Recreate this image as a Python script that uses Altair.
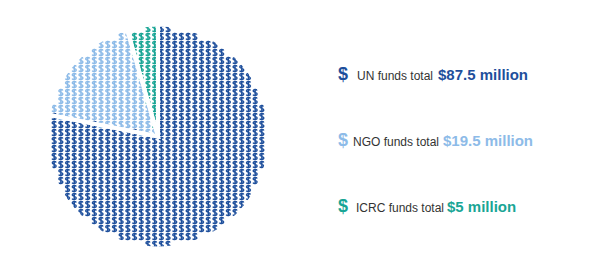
import json
import altair as alt
import pandas as pd

# ---- data ----
categories = ["UN", "NGO", "ICRC"]
funds = [87.5, 19.5, 5.0]  # US$ million
labels = ["UN funds total", "NGO funds total", "ICRC funds total"]
value_texts = ["$87.5 million", "$19.5 million", "$5 million"]

# ---- styles / layout ----
glyph_colors = ["#1e4f9c", "#8dbbe8", "#19a595"]
text_colors = ["#1b3f8f", "#8fb8e6", "#1ba596"]
CX, CY, R = 158, 136.5, 112
COL_STEP, ROW_STEP = 6.7, 8
NCOLS, NROWS = 36, 30
ICON_X = 343
LABEL_X = [357, 353, 356]
VALUE_X = [438, 443, 447]
ROW_Y = [79.5, 146, 212]

# "$" glyph as a symbol path (unit square -1..1)
DOLLAR = ("M0.42,-0.42 C0.3,-0.68 -0.42,-0.7 -0.42,-0.3 "
          "C-0.42,0 0.42,-0.04 0.42,0.3 C0.42,0.7 -0.3,0.68 -0.45,0.42 "
          "M0,-0.78 L0,0.78")

total = sum(funds)
cum = []
acc = 0.0
for f in funds:
    acc += f
    cum.append(360.0 * acc / total)

cat_expr = f"'{categories[-1]}'"
for c, b in reversed(list(zip(categories[:-1], cum[:-1]))):
    cat_expr = f"(datum.ang < {b} ? '{c}' : {cat_expr})"

glyphs = (
    alt.Chart(alt.sequence(0, NCOLS * NROWS, as_="i"))
    .transform_calculate(
        px=f"{CX} + ((datum.i % {NCOLS}) - {(NCOLS - 1) / 2}) * {COL_STEP}",
        py=f"{CY} + (floor(datum.i / {NCOLS}) - {(NROWS - 1) / 2}) * {ROW_STEP}",
    )
    .transform_calculate(
        dist=f"sqrt(pow(datum.px - {CX}, 2) + pow(datum.py - {CY}, 2))",
        ang0=f"atan2(datum.px - {CX}, {CY} - datum.py) * 180 / PI",
    )
    .transform_calculate(ang="datum.ang0 < 0 ? datum.ang0 + 360 : datum.ang0")
    .transform_filter(f"datum.dist < {R - 3}")
    .transform_calculate(cat=cat_expr)
    .mark_point(shape=DOLLAR, size=92, filled=False, strokeWidth=1.45, opacity=1)
    .encode(
        x=alt.X("px:Q", scale=None),
        y=alt.Y("py:Q", scale=None),
        color=alt.Color("cat:N", scale=alt.Scale(domain=categories, range=glyph_colors), legend=None),
    )
)

pie_df = pd.DataFrame({"cat": categories, "funds": funds, "order": list(range(len(categories)))})
arcs = (
    alt.Chart(pie_df)
    .mark_arc(radius=R, fillOpacity=0, stroke="white", strokeWidth=4)
    .encode(
        theta=alt.Theta("funds:Q", stack=True),
        order=alt.Order("order:Q"),
        x=alt.value(CX),
        y=alt.value(CY),
    )
)

leg_df = pd.DataFrame({"cat": categories, "label": labels, "value": value_texts})
cats_js = json.dumps(categories)
leg_base = alt.Chart(leg_df).transform_calculate(
    idx=f"indexof({cats_js}, datum.cat)"
).transform_calculate(
    ly=f"{json.dumps(ROW_Y)}[datum.idx]",
    lx=f"{json.dumps(LABEL_X)}[datum.idx]",
    vx=f"{json.dumps(VALUE_X)}[datum.idx]",
)

icons = leg_base.mark_text(font="Liberation Sans", fontWeight="bold", fontSize=18,
                           align="center", baseline="alphabetic").encode(
    x=alt.value(ICON_X),
    y=alt.Y("ly:Q", scale=None),
    text=alt.value("$"),
    color=alt.Color("cat:N", scale=alt.Scale(domain=categories, range=text_colors), legend=None),
)
label_txt = leg_base.mark_text(font="Liberation Sans", fontSize=12, color="#333333",
                               align="left", baseline="alphabetic").encode(
    x=alt.X("lx:Q", scale=None),
    y=alt.Y("ly:Q", scale=None),
    text="label:N",
)
value_txt = leg_base.mark_text(font="Liberation Sans", fontWeight="bold", fontSize=15,
                               align="left", baseline="alphabetic").encode(
    x=alt.X("vx:Q", scale=None),
    y=alt.Y("ly:Q", scale=None),
    text="value:N",
    color=alt.Color("cat:N", scale=alt.Scale(domain=categories, range=text_colors), legend=None),
)

chart = (
    alt.layer(glyphs, arcs, icons, label_txt, value_txt)
    .properties(width=600, height=265, padding=0, autosize=alt.AutoSizeParams(type="none"),
                background="white")
    .configure_view(stroke=None)
)

chart.save("out.html", embed_options={"renderer": "svg", "actions": False})
